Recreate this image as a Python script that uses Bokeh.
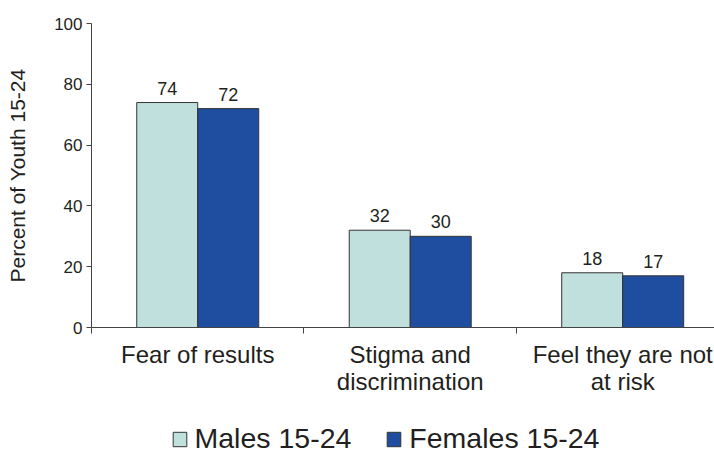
from bokeh.plotting import figure
from bokeh.layouts import column
from bokeh.models import (ColumnDataSource, Range1d, FixedTicker, LabelSet, Legend, LegendItem)
from bokeh.core.properties import value
from bokeh.embed import file_html
from bokeh.resources import INLINE

categories = ["Fear of results", "Stigma and\ndiscrimination", "Feel they are not\nat risk"]
males = [74, 32, 18]
females = [72, 30, 17]
y_ticks = [0, 20, 40, 60, 80, 100]
series_names = ["Males 15-24", "Females 15-24"]

MALE_COLOR = "#c0e0de"
FEMALE_COLOR = "#1f4da0"
TEXT = "#231f20"
AXIS = "#444444"
FONT = "Liberation Sans"

BW = 0.287
n = len(categories)
centers = [i + 0.5 for i in range(n)]
bounds = list(range(n))

MAIN_H = 400
p = figure(width=714, height=MAIN_H, output_backend="svg", toolbar_location=None,
           x_range=Range1d(0, 2.932), y_range=Range1d(0, 100),
           min_border_left=91, min_border_right=0, min_border_top=23,
           min_border_bottom=MAIN_H - 327)
p.outline_line_color = None
p.xgrid.visible = False
p.ygrid.visible = False

src_m = ColumnDataSource(dict(x=[c - BW / 2 for c in centers], top=males, lab=[str(v) for v in males]))
src_f = ColumnDataSource(dict(x=[c + BW / 2 for c in centers], top=females, lab=[str(v) for v in females]))

p.vbar(x="x", top="top", width=BW, source=src_m, fill_color=MALE_COLOR, line_color="#333333", line_width=1)
p.vbar(x="x", top="top", width=BW, source=src_f, fill_color=FEMALE_COLOR, line_color="#333333", line_width=1)

for src in (src_m, src_f):
    p.add_layout(LabelSet(x="x", y="top", text="lab", source=src, text_align="center",
                          text_baseline="bottom", y_offset=8, text_font=value(FONT),
                          text_font_size=value("18px"), text_color=value(TEXT)))

# x axis: labels at category centers, boundary ticks as minor ticks
p.xaxis.ticker = FixedTicker(ticks=centers, minor_ticks=bounds)
p.xaxis.major_label_overrides = {c: t for c, t in zip(centers, categories)}
p.xaxis.major_tick_in = 0
p.xaxis.major_tick_out = 0
p.xaxis.minor_tick_in = 0
p.xaxis.minor_tick_out = 6
p.xaxis.minor_tick_line_color = AXIS
p.xaxis.axis_line_color = AXIS
p.xaxis.major_label_text_font = FONT
p.xaxis.major_label_text_font_size = "24px"
p.xaxis.major_label_text_color = TEXT
p.xaxis.major_label_text_line_height = 1.03
p.xaxis.major_label_standoff = 7

p.yaxis.ticker = FixedTicker(ticks=y_ticks)
p.yaxis.major_tick_in = 0
p.yaxis.major_tick_out = 5
p.yaxis.minor_tick_line_color = None
p.yaxis.axis_line_color = AXIS
p.yaxis.major_tick_line_color = AXIS
p.yaxis.major_label_text_font = FONT
p.yaxis.major_label_text_font_size = "17px"
p.yaxis.major_label_text_color = TEXT
p.yaxis.major_label_standoff = 4
p.yaxis.axis_label = "Percent of Youth 15-24"
p.yaxis.axis_label_text_font = FONT
p.yaxis.axis_label_text_font_size = "21px"
p.yaxis.axis_label_text_font_style = "normal"
p.yaxis.axis_label_text_color = TEXT
p.yaxis.axis_label_standoff = 22

# legend strip below the chart (its frame is aligned with the chart frame, left = 91)
LEG_H = 449 - MAIN_H
lf = figure(width=714, height=LEG_H, output_backend="svg", toolbar_location=None,
            x_axis_type=None, y_axis_type=None, x_range=Range1d(0, 1), y_range=Range1d(0, 1),
            min_border_left=0, min_border_right=0, min_border_top=0, min_border_bottom=0)
lf.outline_line_color = None
lf.xgrid.visible = False
lf.ygrid.visible = False
lm = lf.vbar(x=[5], top=[1], width=0.1,
             fill_color=MALE_COLOR, line_color="#333333", line_width=1)
lfe = lf.vbar(x=[5], top=[1], width=0.1,
              fill_color=FEMALE_COLOR, line_color="#333333", line_width=1)

legend = Legend(items=[LegendItem(label=series_names[0], renderers=[lm]),
                       LegendItem(label=series_names[1], renderers=[lfe])],
                orientation="horizontal", location=(79.5, -6),
                glyph_width=17, glyph_height=18, label_standoff=7, spacing=34,
                padding=0, margin=0, border_line_alpha=0, background_fill_alpha=0,
                label_text_font=FONT, label_text_font_size="28.5px", label_text_color=TEXT)
lf.add_layout(legend, "center")

layout = column(p, lf, spacing=0)
open("out.html", "w").write(file_html(layout, INLINE))
